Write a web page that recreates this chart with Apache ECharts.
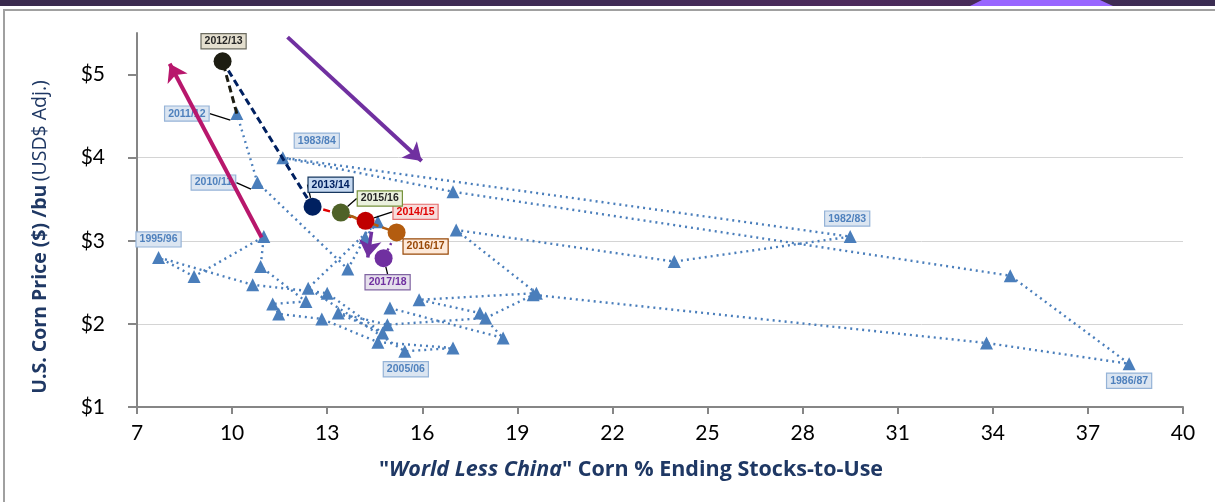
<!DOCTYPE html>
<html>
<head>
<meta charset="utf-8">
<script src="https://cdn.jsdelivr.net/npm/echarts@6/dist/echarts.min.js"></script>
<style>
html,body{margin:0;padding:0;background:#fff;}
#chart{width:1215px;height:502px;}
</style>
</head>
<body>
<div id="chart"></div>
<script>
// ---- Data ----
const histYears = ['1975/76','1976/77','1977/78','1978/79','1979/80','1980/81','1981/82','1982/83','1983/84','1984/85',
  '1985/86','1986/87','1987/88','1988/89','1989/90','1990/91','1991/92','1992/93','1993/94','1994/95',
  '1995/96','1996/97','1997/98','1998/99','1999/00','2000/01','2001/02','2002/03','2003/04','2004/05',
  '2005/06','2006/07','2007/08','2008/09','2009/10','2010/11','2011/12'];
const histStocks = [14.98,18.55,17.82,15.9,19.6,17.07,23.95,29.5,11.6,16.97,
  34.55,38.3,33.8,19.5,18.0,14.9,13.35,14.75,13.0,10.65,
  7.68,8.8,11.0,10.9,12.33,11.28,11.47,12.83,14.6,16.97,
  15.45,12.4,14.6,14.2,13.65,10.8,10.15];
const histPrice = [2.19,1.83,2.13,2.29,2.37,3.13,2.75,3.05,4.0,3.59,
  2.58,1.52,1.77,2.35,2.07,1.99,2.13,1.89,2.37,2.47,
  2.80,2.57,3.05,2.69,2.27,2.24,2.12,2.06,1.78,1.71,
  1.67,2.43,3.23,3.04,2.66,3.70,4.53];
const histLabeled = ['1982/83','1983/84','1986/87','1995/96','2005/06','2010/11','2011/12'];

const recentYears = ['2012/13','2013/14','2014/15','2015/16','2016/17','2017/18'];
const recentStocks = [9.70,12.54,14.21,13.43,15.19,14.78];
const recentPrice = [5.16,3.41,3.24,3.34,3.10,2.79];

const xTicks = [7,10,13,16,19,22,25,28,31,34,37,40];
const yTicks = [1,2,3,4,5];

// annotation arrows (data coordinates: [stocks, price])
const arrowMagenta = [[10.93,3.04],[8.03,5.13]];
const arrowPurple = [[11.75,5.45],[15.98,3.96]];
const arrowSmall = [[14.40,3.11],[14.28,2.80]];

// ---- Styles ----
const blueLbl = {color:'#4f81bd', backgroundColor:'#dbe5f1', borderColor:'#95b3d7'};
const recentColors = ['#1d1d12','#002060','#c00000','#4f6228','#b35c0f','#7030a0'];
const segColors = ['#1d1d12','#002060','#e00000','#8a6a2a','#b35c0f','#7030a0'];
const recentLbl = [
  {color:'#262626', backgroundColor:'#e4dfcf', borderColor:'#6b6b60'},
  {color:'#002060', backgroundColor:'#c6d9f1', borderColor:'#17375e'},
  {color:'#e00000', backgroundColor:'#f6dcdb', borderColor:'#e46c6c'},
  {color:'#262626', backgroundColor:'#ebf1de', borderColor:'#77933c'},
  {color:'#984807', backgroundColor:'#fde9d9', borderColor:'#984807'},
  {color:'#7030a0', backgroundColor:'#e6e0ec', borderColor:'#8064a2'}
];
const labelOffsets = {
  '1982/83':[-3,-18,false], '1983/84':[34,-17,false], '1986/87':[0,17,false],
  '1995/96':[0,-18,false], '2005/06':[1,18,false], '2010/11':[-44,0,true],
  '2011/12':[-50,0,true], '2012/13':[1,-20,false], '2013/14':[18,-22,true],
  '2015/16':[39,-14,true], '2014/15':[50,-9,true], '2016/17':[29,14,false],
  '2017/18':[4,24,true]
};
const baseLbl = {fontSize:10.5, fontWeight:'bold', fontFamily:'"Liberation Sans", Arial, sans-serif',
  padding:[2,3,1,3], borderWidth:1.2};

const histData = histYears.map((yr,i)=>{
  const item = {name:yr, value:[histStocks[i], histPrice[i]]};
  if (histLabeled.indexOf(yr) >= 0) {
    item.label = Object.assign({show:true, position:'inside', formatter:yr}, baseLbl, blueLbl);
    if (labelOffsets[yr][2]) item.labelLine = {show:true, lineStyle:{color:'#000', width:1.3}};
  }
  return item;
});
const recentData = recentYears.map((yr,i)=>{
  const item = {name:yr, value:[recentStocks[i], recentPrice[i]], itemStyle:{color:recentColors[i], opacity:1},
    label: Object.assign({show:true, position:'inside', formatter:yr}, baseLbl, recentLbl[i])};
  if (labelOffsets[yr][2]) item.labelLine = {show:true, lineStyle:{color:'#000', width:1.3}};
  return item;
});

function layoutFn(p){
  const off = labelOffsets[p.text];
  if (!off) return {};
  return {x: p.rect.x + p.rect.width/2 + off[0], y: p.rect.y + p.rect.height/2 + off[1],
          align:'center', verticalAlign:'middle'};
}

// connecting segments for recent years
const segSeries = [];
const chainX = [histStocks[histStocks.length-1]].concat(recentStocks);
const chainY = [histPrice[histPrice.length-1]].concat(recentPrice);
for (let i=0;i<chainX.length-1;i++){
  segSeries.push({
    type:'line', silent:true, symbol:'none', z:3,
    data:[[chainX[i],chainY[i]],[chainX[i+1],chainY[i+1]]],
    lineStyle:{color:segColors[i], width: i<2 ? 3 : 2.5, type: i===5 ? [2,4] : [7,4]}
  });
}

const chart = echarts.init(document.getElementById('chart'));
const axisFont = {fontFamily:'Lato, "Liberation Sans", sans-serif', fontSize:21, color:'#000'};
chart.setOption({
  animation:false,
  graphic:[
    {type:'rect', shape:{x:0,y:0,width:1215,height:6}, style:{fill:new echarts.graphic.LinearGradient(0,0,1,0,[
      {offset:0,color:'#3a2a4e'},{offset:0.5,color:'#3f2a55'},{offset:0.7,color:'#4d2a5c'},{offset:1,color:'#3a2c52'}])}, z:0},
    {type:'polygon', shape:{points:[[982,0],[1100,0],[1113,6],[970,6]]}, style:{fill:'#9966ff'}, z:1},
    {type:'rect', shape:{x:4,y:10,width:1220,height:500}, style:{fill:'none', stroke:'#a0a0a0', lineWidth:2}, z:0}
  ],
  grid:{left:137, right:32, top:33, bottom:95},
  xAxis:{
    type:'value', min:7, max:40, interval:3,
    axisLine:{show:true, lineStyle:{color:'#868686', width:2}},
    axisTick:{show:true, length:7, lineStyle:{color:'#868686', width:2}, customValues:xTicks},
    axisLabel:Object.assign({margin:16, customValues:xTicks}, axisFont),
    splitLine:{show:false},
    name:'{b|"}{bi|World Less China}{b|" Corn % Ending Stocks-to-Use}',
    nameLocation:'middle', nameGap:52,
    nameTextStyle:{padding:[0,58,0,0], rich:{
      b:{fontFamily:'"Open Sans", sans-serif', fontSize:21.5, fontWeight:'bold', color:'#1f3864'},
      bi:{fontFamily:'"Open Sans", sans-serif', fontSize:21.5, fontWeight:'bold', fontStyle:'italic', color:'#1f3864'}
    }}
  },
  yAxis:{
    type:'value', min:1, max:5.5, interval:1,
    axisLine:{show:true, lineStyle:{color:'#868686', width:2}},
    axisTick:{show:true, length:9, lineStyle:{color:'#868686', width:2}, customValues:yTicks},
    axisLabel:Object.assign({margin:32, customValues:yTicks, formatter:v=>'$'+v}, axisFont),
    splitLine:{show:true, showMinLine:false, showMaxLine:false, lineStyle:{color:'#d4d4d4', width:1}},
    name:'{b|U.S. Corn Price ($) /bu} {n|(USD$ Adj.)}',
    nameLocation:'middle', nameGap:87,
    nameTextStyle:{padding:[0,34,0,0], rich:{
      b:{fontFamily:'"Open Sans", sans-serif', fontSize:19.5, fontWeight:'bold', color:'#1f3864'},
      n:{fontFamily:'"Open Sans", sans-serif', fontSize:19.5, color:'#1f3864'}
    }}
  },
  series:[
    {
      type:'line', name:'history', z:2,
      data:histData,
      symbol:'triangle', symbolSize:13,
      itemStyle:{color:'#4a7ebb'},
      lineStyle:{color:'#4a7ebb', width:2.4, type:[2,4]},
      label:{show:false},
      labelLine:{show:false},
      labelLayout:layoutFn
    }
  ].concat(segSeries).concat([
    {
      type:'scatter', name:'recent', z:5,
      data:recentData, symbolSize:18,
      labelLine:{show:false},
      labelLayout:layoutFn
    },
    {
      type:'lines', coordinateSystem:'cartesian2d', z:6, silent:true,
      symbol:['none','arrow'], symbolSize:[1,17],
      data:[
        {coords:arrowMagenta, lineStyle:{color:'#b8176c', width:4}},
        {coords:arrowPurple, lineStyle:{color:'#7030a0', width:4}},
        {coords:arrowSmall, lineStyle:{color:'#7030a0', width:3.5}}
      ],
      lineStyle:{opacity:1, curveness:0}
    }
  ])
});
</script>
</body>
</html>
